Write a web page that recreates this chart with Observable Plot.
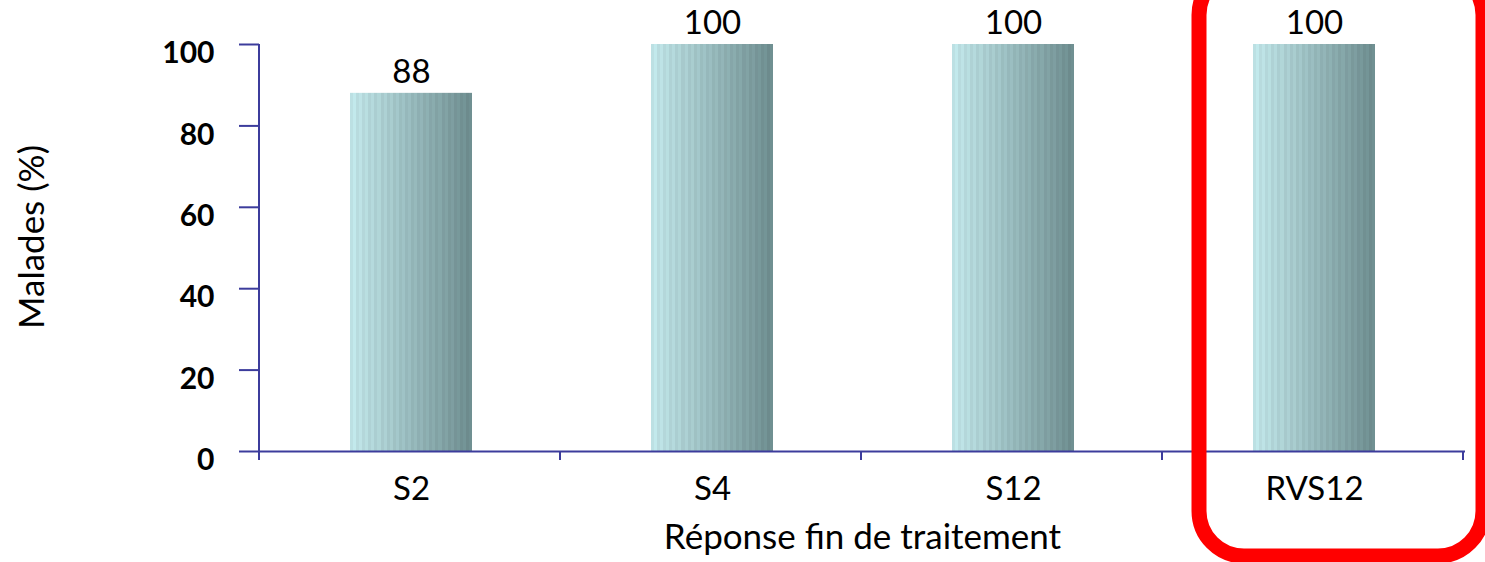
<!DOCTYPE html>
<html>
<head>
<meta charset="utf-8">
<script src="https://cdn.jsdelivr.net/npm/d3@7"></script>
<script src="https://cdn.jsdelivr.net/npm/@observablehq/plot@0.6"></script>
<style>
  html, body { margin: 0; padding: 0; background: white; }
  #chart { width: 1485px; height: 562px; overflow: hidden; }
</style>
</head>
<body>
<div id="chart"></div>
<script>
const categories = ["S2", "S4", "S12", "RVS12"];
const values = [88, 100, 100, 100];
const yTicks = [0, 20, 40, 60, 80, 100];
const xTitle = "Réponse fin de traitement";
const yTitle = "Malades (%)";
const highlighted = "RVS12";

const data = categories.map((c, i) => ({cat: c, value: values[i]}));
const axisColor = "#3c3c9c";
const font = "Lato, 'Open Sans', sans-serif";

const plot = Plot.plot({
  width: 1485,
  height: 562,
  marginLeft: 259,
  marginRight: 20,
  marginTop: 44,
  marginBottom: 111,
  style: {fontFamily: font, background: "white", color: "black"},
  x: {domain: categories, paddingInner: 0.595, paddingOuter: 0.2975, label: null},
  y: {domain: [0, 100], label: null},
  marks: [
    Plot.barY(data, {x: "cat", y: "value", fill: "url(#barGrad)"}),
    Plot.ruleY([0], {stroke: axisColor, strokeWidth: 2}),
    Plot.text(data, {x: "cat", y: "value", text: d => String(d.value), dy: -21, fontSize: 33, fill: "black"}),
    // tick lines only
    Plot.axisY({ticks: yTicks, tickSize: 20, stroke: axisColor, strokeWidth: 2, fill: "none", label: null}),
    // tick labels only
    Plot.axisY({ticks: yTicks, tickSize: 0, tickPadding: 45, fontSize: 30, fontWeight: "bold",
      fill: "black", dy: 9, label: null}),
    Plot.axisX({tickSize: 0, tickPadding: 25, fontSize: 33, fill: "black", label: null}),
    Plot.text([xTitle], {frameAnchor: "bottom", lineAnchor: "middle", textAnchor: "middle",
      text: d => d, dy: 86, fontSize: 35, fill: "black"}),
    Plot.text([yTitle], {frameAnchor: "left", lineAnchor: "middle", textAnchor: "middle",
      text: d => d, rotate: -90, dx: -227, dy: -11, fontSize: 35, fill: "black"})
  ]
});

document.getElementById("chart").appendChild(plot);

const svg = d3.select(plot);
const xs = plot.scale("x");
const ys = plot.scale("y");

// gradient with fine vertical striping
const defs = svg.insert("defs", ":first-child");
const grad = defs.append("linearGradient").attr("id", "barGrad")
  .attr("x1", "0").attr("x2", "1").attr("y1", "0").attr("y2", "0");
const interp = d3.interpolateRgb("#c0e5e8", "#6c8b8d");
const N = 40;
for (let i = 0; i < N; i++) {
  const t0 = i / N, t1 = (i + 1) / N;
  const base = d3.color(interp((t0 + t1) / 2));
  const c1 = i % 2 ? base.brighter(0.08) : base.darker(0.05);
  grad.append("stop").attr("offset", t0).attr("stop-color", c1.formatHex());
  grad.append("stop").attr("offset", t1).attr("stop-color", c1.formatHex());
}

const y0 = ys.apply(0), y100 = ys.apply(100);
const xL = xs.range[0];
// vertical y axis line
svg.append("line").attr("x1", xL).attr("x2", xL).attr("y1", y100).attr("y2", y0)
  .attr("stroke", axisColor).attr("stroke-width", 2);
// x separator ticks
for (let i = 0; i <= categories.length; i++) {
  const x = xL + i * xs.step;
  svg.append("line").attr("x1", x).attr("x2", x).attr("y1", y0).attr("y2", y0 + 9)
    .attr("stroke", axisColor).attr("stroke-width", 2);
}
// highlight frame round the last category
const segStart = xL + categories.indexOf(highlighted) * xs.step;
svg.append("rect")
  .attr("x", segStart + 37)
  .attr("y", -30)
  .attr("width", xs.step - 17)
  .attr("height", 586)
  .attr("rx", 45).attr("ry", 45)
  .attr("fill", "none")
  .attr("stroke", "#ff0000")
  .attr("stroke-width", 15);
</script>
</body>
</html>
